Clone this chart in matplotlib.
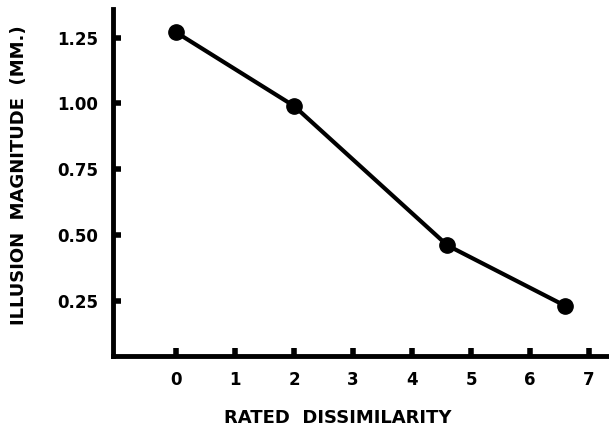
import matplotlib
matplotlib.use("Agg")
import matplotlib.pyplot as plt

# data
dissimilarity = [0, 2, 4.6, 6.6]
illusion_mm = [1.27, 0.99, 0.46, 0.23]
xticks = [0, 1, 2, 3, 4, 5, 6, 7]
yticks = [0.25, 0.50, 0.75, 1.00, 1.25]
ytick_labels = ["0.25", "0.50", "0.75", "1.00", "1.25"]

fig = plt.figure(figsize=(6.09, 4.34), dpi=100)
ax = fig.add_axes([0.1856, 0.18, 0.8144, 0.80])

ax.plot(dissimilarity, illusion_mm, color="black", lw=3,
        marker="o", ms=11, solid_capstyle="round", clip_on=False)

ax.set_xlim(-1.07, 7.34)
ax.set_ylim(0.04, 1.36)

for side in ["top", "right"]:
    ax.spines[side].set_visible(False)
for side in ["left", "bottom"]:
    ax.spines[side].set_linewidth(3.5)

ax.set_xticks(xticks)
ax.set_yticks(yticks)
ax.set_yticklabels(ytick_labels)
ax.tick_params(direction="in", length=6, width=4, pad=11,
               labelsize=12)
for lab in ax.get_xticklabels() + ax.get_yticklabels():
    lab.set_fontweight("bold")

fig.text(338 / 609, 1 - 418 / 434, "RATED  DISSIMILARITY",
         ha="center", va="center", fontsize=13, fontweight="bold")
fig.text(19 / 609, 1 - 175 / 434, "ILLUSION  MAGNITUDE  (MM.)",
         ha="center", va="center", rotation=90, fontsize=13,
         fontweight="bold")

fig.savefig("out.png", dpi=100)
